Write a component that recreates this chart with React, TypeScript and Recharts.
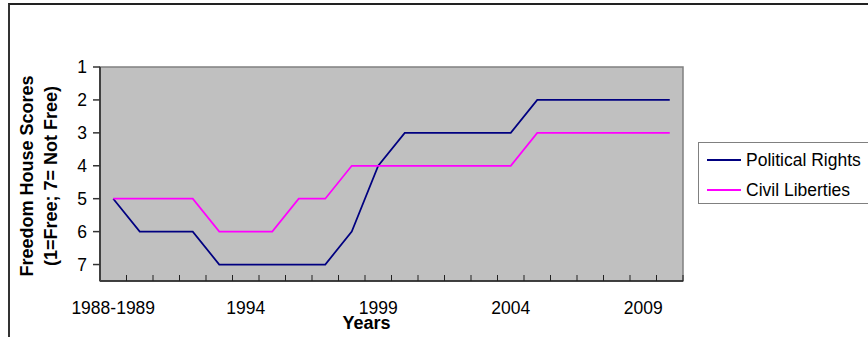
import React from "react";
import {
  LineChart,
  Line,
  XAxis,
  YAxis,
  Legend,
  ReferenceArea,
} from "recharts";

const years = [
  "1988-1989", "1990", "1991", "1992", "1993", "1994", "1995", "1996", "1997", "1998",
  "1999", "2000", "2001", "2002", "2003", "2004", "2005", "2006", "2007", "2008", "2009", "2010",
];
const politicalRights = [5, 6, 6, 6, 7, 7, 7, 7, 7, 6, 4, 3, 3, 3, 3, 3, 2, 2, 2, 2, 2, 2];
const civilLiberties = [5, 5, 5, 5, 6, 6, 6, 5, 5, 4, 4, 4, 4, 4, 4, 4, 3, 3, 3, 3, 3, 3];
const yTicks = [1, 2, 3, 4, 5, 6, 7];
const yDomain = [1, 7.5];
const labelEvery = 5;
// category boundaries (Excel draws tick marks between categories)
const boundaryTicks = Array.from({ length: years.length + 1 }, (_, i) => i);

const series = [
  { key: "pr", name: "Political Rights", color: "#000080" },
  { key: "cl", name: "Civil Liberties", color: "#FF00FF" },
];

// each category occupies [i, i+1]; its point sits in the middle of the slot
const data = years.map((y, i) => ({
  year: y,
  slot: i + 0.5,
  pr: politicalRights[i],
  cl: civilLiberties[i],
}));

const FONT = '"Liberation Sans", Arial, sans-serif';

const XTick = (props: any) => {
  const { x, y, payload, width, visibleTicksCount } = props;
  const v = payload?.value;
  if (v == null || v >= years.length || v % labelEvery !== 0) return <g />;
  const step = width / Math.max(1, visibleTicksCount - 1);
  return (
    <text
      x={x + step / 2}
      y={y}
      dy="0.71em"
      textAnchor="middle"
      fontFamily={FONT}
      fontSize={17.5}
      fill="#000"
    >
      {years[v]}
    </text>
  );
};

const YTitle = (props: any) => {
  const vb = props.viewBox || {};
  const cy = (vb.y ?? 67) + (vb.height ?? 214) / 2 + 2;
  return (
    <g>
      <text
        x={33}
        y={cy}
        transform={`rotate(-90 33 ${cy})`}
        textAnchor="middle"
        fontFamily={FONT}
        fontWeight="bold"
        fontSize={18}
        fill="#000"
      >
        Freedom House Scores
      </text>
      <text
        x={57}
        y={cy}
        transform={`rotate(-90 57 ${cy})`}
        textAnchor="middle"
        fontFamily={FONT}
        fontWeight="bold"
        fontSize={18}
        fill="#000"
      >
        (1=Free; 7= Not Free)
      </text>
    </g>
  );
};

const XTitle = (props: any) => {
  const vb = props.viewBox || {};
  const cx = (vb.x ?? 100) + (vb.width ?? 583) / 2 - 25;
  return (
    <text
      x={cx}
      y={329}
      textAnchor="middle"
      fontFamily={FONT}
      fontWeight="bold"
      fontSize={18}
      fill="#000"
    >
      Years
    </text>
  );
};

const LegendBox = () => (
  <div
    style={{
      border: "1px solid #808080",
      width: 190,
      height: 62,
      boxSizing: "border-box",
      background: "#fff",
      paddingTop: 2,
    }}
  >
    {series.map((s) => (
      <div
        key={s.key}
        style={{ display: "flex", alignItems: "center", height: 30, whiteSpace: "nowrap" }}
      >
        <div style={{ width: 34, height: 2, background: s.color, marginLeft: 8, marginRight: 5 }} />
        <span style={{ fontFamily: FONT, fontSize: 17.5, color: "#000", lineHeight: "30px" }}>
          {s.name}
        </span>
      </div>
    ))}
  </div>
);

export default function App() {
  return (
    <div
      style={{
        position: "absolute",
        left: 0,
        top: 0,
        width: 868,
        height: 337,
        overflow: "hidden",
        background: "#fff",
      }}
    >
      <div
        style={{
          position: "absolute",
          left: 8,
          top: 3,
          width: 900,
          height: 400,
          borderLeft: "2px solid #333",
          borderTop: "2px solid #222",
        }}
      />
      <LineChart
        width={868}
        height={337}
        data={data}
        margin={{ top: 67, right: 185, bottom: 55, left: 0 }}
        style={{ fontFamily: FONT }}
      >
        <ReferenceArea
          xAxisId="x"
          yAxisId="y"
          x1={0}
          x2={years.length}
          y1={yDomain[0]}
          y2={yDomain[1]}
          fill="#C0C0C0"
          fillOpacity={1}
          stroke="#808080"
          strokeWidth={1.5}
        />
        <XAxis
          xAxisId="x"
          dataKey="slot"
          type="number"
          domain={[0, years.length]}
          ticks={boundaryTicks}
          interval={0}
          allowDataOverflow
          height={1}
          tickSize={-6}
          tickMargin={27}
          tick={<XTick />}
          tickLine={{ stroke: "#222", strokeWidth: 1 }}
          axisLine={{ stroke: "#222", strokeWidth: 1.5 }}
          label={<XTitle />}
        />
        <YAxis
          yAxisId="y"
          type="number"
          domain={yDomain}
          reversed
          ticks={yTicks}
          interval={0}
          width={100}
          tickSize={7}
          tickMargin={6}
          tickLine={{ stroke: "#333", strokeWidth: 1.5 }}
          axisLine={{ stroke: "#404040", strokeWidth: 2 }}
          tick={{ fontSize: 17.5, fill: "#000", fontFamily: FONT }}
          label={<YTitle />}
        />
        {series.map((s) => (
          <Line
            key={s.key}
            xAxisId="x"
            yAxisId="y"
            type="linear"
            dataKey={s.key}
            name={s.name}
            stroke={s.color}
            strokeWidth={1.75}
            dot={false}
            isAnimationActive={false}
          />
        ))}
        <Legend
          layout="vertical"
          align="center"
          verticalAlign="middle"
          content={<LegendBox />}
          wrapperStyle={{ position: "absolute", left: 698, top: 142, width: 190 }}
        />
      </LineChart>
    </div>
  );
}
